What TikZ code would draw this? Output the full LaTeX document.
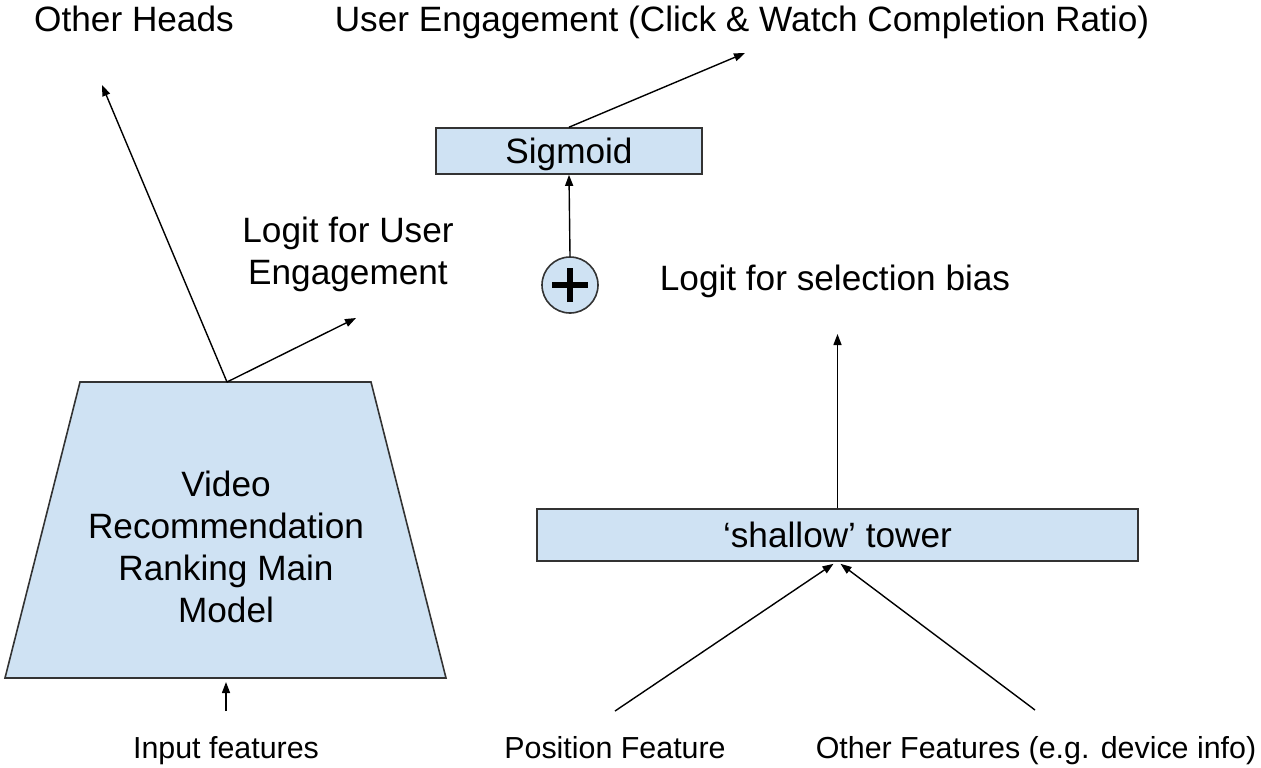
\documentclass[tikz,border=0pt]{standalone}
\usepackage{fontspec}
\setmainfont{Liberation Sans}
\usetikzlibrary{arrows.meta, positioning}
\definecolor{boxblue}{HTML}{CFE2F3}
\definecolor{edgegray}{HTML}{333333}

\tikzset{
  big/.style={font=\fontsize{17.6}{21}\selectfont},
  small/.style={font=\fontsize{15.2}{18}\selectfont},
  shade/.style={draw=edgegray, line width=0.8pt, fill=boxblue},
  block/.style={shade, big, inner sep=0pt, text depth=0pt},
  arr/.style={-{Triangle[length=5.5pt,width=4pt]}, line width=0.7pt},
}

\begin{document}
\begin{tikzpicture}[x=0.5pt,y=-0.5pt]
\useasboundingbox (0,0) rectangle (1261,767);
%Main model:
\coordinate (MT) at (227,382);
\coordinate (MB) at (226,678);
\draw [shade] (5,678) -- (80,382) -- (371,382) -- (446,678) -- cycle;
\node (M) [big, align=center] at (226,547) {Video\\Recommendation\\Ranking Main\\Model};
%Blocks:
\node (S) [block, minimum width=133pt, minimum height=23pt] at (569,151) {Sigmoid};
\node (T) [block, minimum width=300.5pt, minimum height=26pt] at (837.5,535) {`shallow' tower};
\node (P) [circle, shade, minimum size=28pt, inner sep=0pt,
  path picture={\draw [line width=3pt, black]
    ([xshift=-9pt]path picture bounding box.center) -- ([xshift=9pt]path picture bounding box.center)
    ([yshift=-8.5pt]path picture bounding box.center) -- ([yshift=8.5pt]path picture bounding box.center);}]
  at (570,285) {};
%Labels:
\node (OH) [big, anchor=base] at (134,31) {Other Heads};
\node (UE) [big, anchor=base] at (742,31) {User Engagement (Click \& Watch Completion Ratio)};
\node (LU) [big, align=center] at (348,254) {Logit for User\\Engagement};
\node (LS) [big, anchor=base] at (835,290) {Logit for selection bias};
\node (IF) [small, anchor=base] at (226,758) {Input features};
\node (PF) [small, anchor=base] at (615,758) {Position Feature};
\node (OF) [small, anchor=base] at (1036,758) {Other Features (e.g. device info)};
%Free ends:
\coordinate (OHend) at (102,85);
\coordinate (LUend) at (356,318);
\coordinate (UEend) at (745,53);
\coordinate (LSend) at (837.5,334);
\coordinate (IFstart) at (226,711);
\coordinate (PFstart) at (615,711);
\coordinate (OFstart) at (1035,710);
%Connections:
\path [arr]
(MT) edge (OHend)
(MT) edge (LUend)
(S.north) edge (UEend)
(P.north) edge (S.south)
(T.north) edge (LSend)
(IFstart) edge ([yshift=-2pt]MB)
(PFstart) edge ([xshift=-2pt,yshift=-1pt]T.south)
(OFstart) edge ([xshift=1.5pt,yshift=-1pt]T.south)
;
\end{tikzpicture}
\end{document}
